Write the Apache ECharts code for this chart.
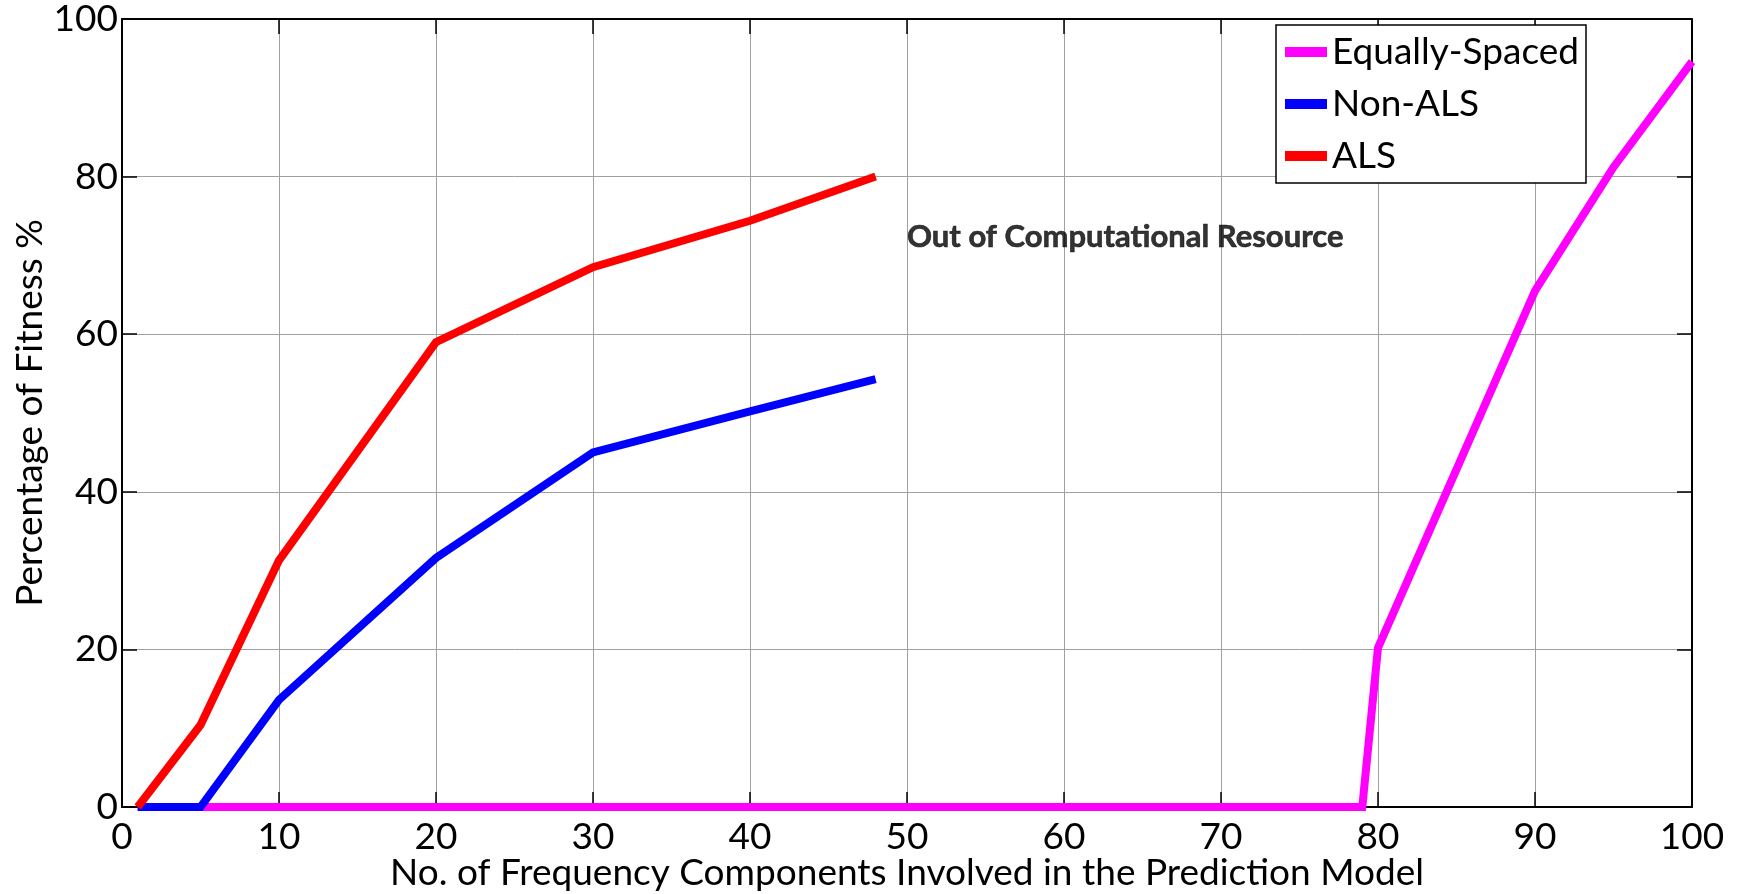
<!DOCTYPE html>
<html>
<head>
<meta charset="utf-8">
<title>Percentage of Fitness vs. Frequency Components</title>
<script src="https://cdn.jsdelivr.net/npm/echarts@6/dist/echarts.min.js"></script>
<style>
  html, body { margin: 0; padding: 0; background: #fff; }
  #chart { width: 1741px; height: 894px; }
</style>
</head>
<body>
<div id="chart"></div>
<script>
// Number of frequency components used in each model run
const equallySpacedX = [1, 5, 10, 20, 30, 40, 50, 60, 70, 79, 80, 90, 95, 100];
const equallySpacedY = [0, 0, 0, 0, 0, 0, 0, 0, 0, 0, 20.2, 65.5, 81.2, 94.6];

const nonAlsX = [1, 5, 10, 20, 30, 40, 48];
const nonAlsY = [0, 0, 13.6, 31.6, 45.0, 50.2, 54.3];

const alsX = [1, 5, 10, 20, 30, 40, 48];
const alsY = [0, 10.4, 31.3, 59.0, 68.5, 74.4, 80.0];

const seriesNames = ['Equally-Spaced', 'Non-ALS', 'ALS'];
const seriesColors = ['#ff00ff', '#0000ff', '#ff0000'];

// Annotation placed where the ALS / Non-ALS runs stop
const noteText = 'Out of Computational Resource';
const notePos = [50, 72.3];

const xTicks = { min: 0, max: 100, interval: 10 };
const yTicks = { min: 0, max: 100, interval: 20 };

const FONT = 'Lato';
const FS = 37;

function pairs(xs, ys) {
  return xs.map((x, i) => [x, ys[i]]);
}

const chart = echarts.init(document.getElementById('chart'), null, { renderer: 'canvas' });

const tickStyle = { show: true, inside: true, length: 15, lineStyle: { color: '#000', width: 1.5 } };
const axisLineStyle = { show: true, onZero: false, lineStyle: { color: '#000', width: 2 } };
const gridLine = { show: true, lineStyle: { color: '#a0a0a0', width: 1, type: 'solid' } };

const lineSeries = [pairs(equallySpacedX, equallySpacedY), pairs(nonAlsX, nonAlsY), pairs(alsX, alsY)]
  .map((data, i) => ({
    name: seriesNames[i],
    type: 'line',
    data: data,
    showSymbol: false,
    symbol: 'none',
    clip: true,
    silent: true,
    animation: false,
    lineStyle: { color: seriesColors[i], width: 8, cap: 'butt', join: 'miter' },
    itemStyle: { color: seriesColors[i] }
  }));

const option = {
  backgroundColor: '#fff',
  animation: false,
  grid: { left: 122, right: 49, top: 19, bottom: 87, containLabel: false, outerBoundsMode: 'none' },
  legend: {
    data: seriesNames,
    left: 1276,
    top: 25,
    orient: 'vertical',
    backgroundColor: '#fff',
    borderColor: '#000',
    borderWidth: 1.5,
    borderRadius: 0,
    padding: [7, 7, 7, 9],
    itemGap: 12,
    itemWidth: 42,
    itemHeight: 10,
    icon: 'rect',
    selectedMode: false,
    textStyle: { fontFamily: FONT, fontSize: FS, color: '#000', lineHeight: 40, padding: [0, 0, 0, 0] }
  },
  xAxis: [
    {
      type: 'value',
      position: 'bottom',
      min: xTicks.min, max: xTicks.max, interval: xTicks.interval,
      name: 'No. of Frequency Components Involved in the Prediction Model',
      nameLocation: 'middle',
      nameGap: 48,
      nameMoveOverlap: false,
      nameTextStyle: { fontFamily: FONT, fontSize: FS, color: '#000' },
      axisLine: axisLineStyle,
      axisTick: tickStyle,
      axisLabel: { fontFamily: FONT, fontSize: FS, color: '#000', margin: 12 },
      splitLine: gridLine
    },
    {
      type: 'value',
      position: 'top',
      min: xTicks.min, max: xTicks.max, interval: xTicks.interval,
      axisLine: axisLineStyle,
      axisTick: tickStyle,
      axisLabel: { show: false },
      splitLine: { show: false }
    }
  ],
  yAxis: [
    {
      type: 'value',
      position: 'left',
      min: yTicks.min, max: yTicks.max, interval: yTicks.interval,
      name: 'Percentage of Fitness %',
      nameLocation: 'middle',
      nameGap: 73,
      nameMoveOverlap: false,
      nameTextStyle: { fontFamily: FONT, fontSize: FS, color: '#000' },
      axisLine: axisLineStyle,
      axisTick: tickStyle,
      axisLabel: { fontFamily: FONT, fontSize: FS, color: '#000', margin: 4 },
      splitLine: gridLine
    },
    {
      type: 'value',
      position: 'right',
      min: yTicks.min, max: yTicks.max, interval: yTicks.interval,
      axisLine: axisLineStyle,
      axisTick: tickStyle,
      axisLabel: { show: false },
      splitLine: { show: false }
    }
  ],
  series: lineSeries.concat([{
    name: 'note',
    type: 'scatter',
    data: [notePos],
    symbolSize: 0,
    silent: true,
    animation: false,
    label: {
      show: true,
      position: 'right',
      distance: 0,
      formatter: noteText,
      fontFamily: FONT,
      fontWeight: 'bold',
      fontSize: 31,
      color: '#000',
      textBorderColor: '#000',
      textBorderWidth: 0.6
    }
  }])
};

chart.setOption(option);
</script>
</body>
</html>
